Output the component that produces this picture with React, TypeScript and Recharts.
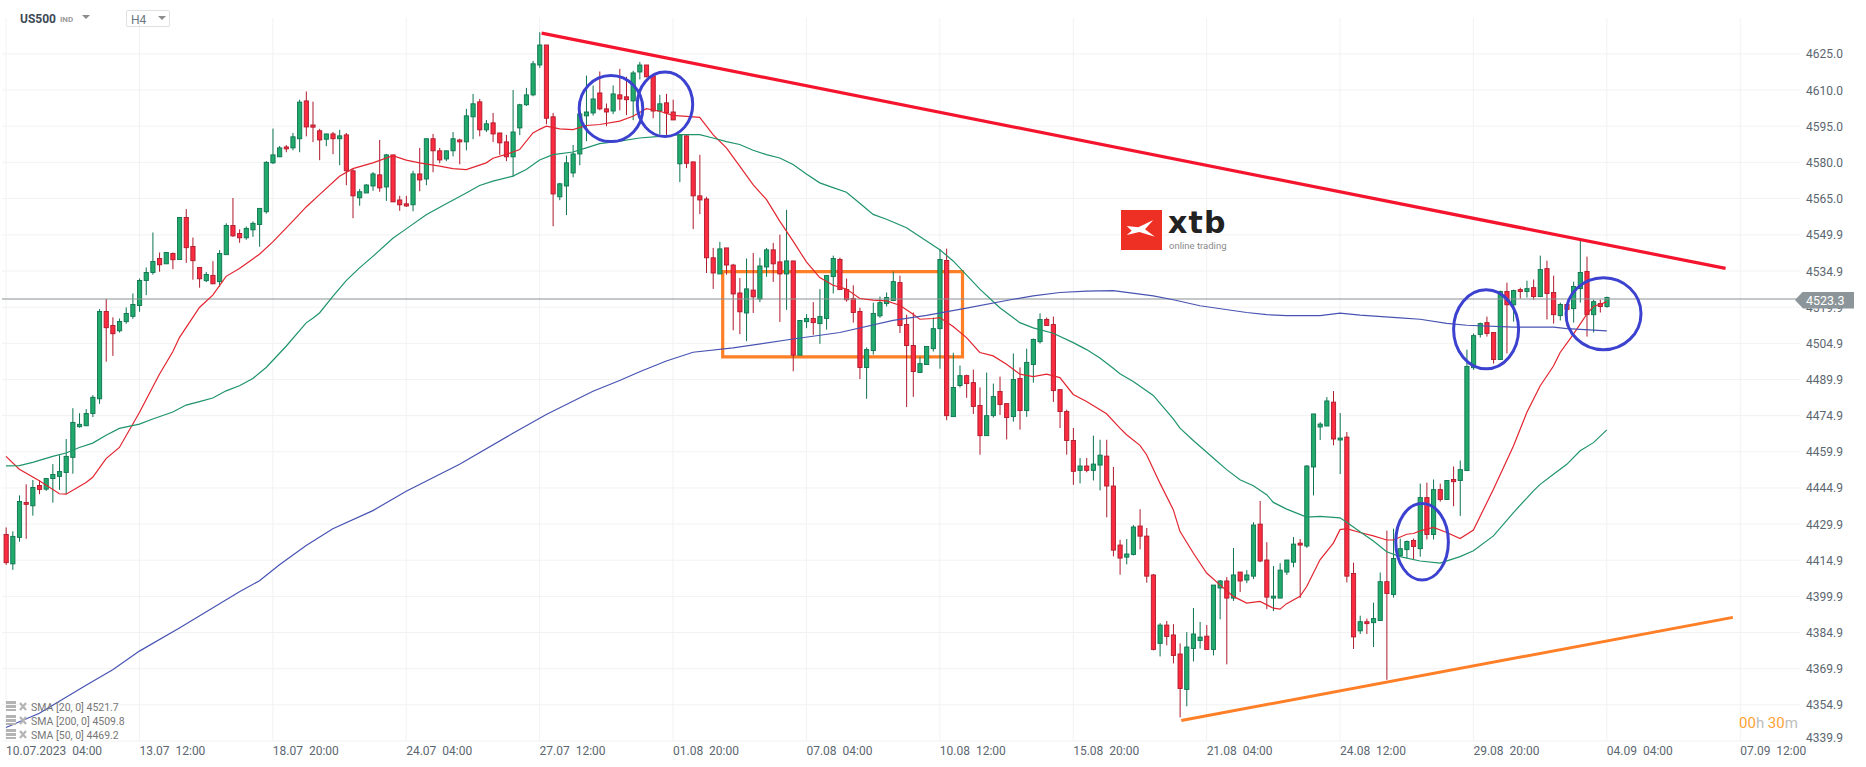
import React from "react";
import {
  ComposedChart, Bar, Line, XAxis, YAxis, CartesianGrid, ReferenceLine, ReferenceArea, ReferenceDot,
} from "recharts";

const opens = [
  4425.6,4413.4,4424.4,4438.9,4437.5,4445.9,4444.4,4448.8,4449.7,4451.3,
  4457.6,4470.3,4470.7,4475.8,4481.9,4518.1,4512.3,4510.1,4513.9,4516.1,
  4520.6,4531,4534.3,4540.1,4537.9,4542.2,4539.7,4557.1,4545.1,4536.4,
  4530.9,4533.1,4530.5,4541.7,4553.8,4550.5,4548.7,4552,4554.2,4559.5,
  4579.8,4582.3,4586.4,4586,4589.8,4605.5,4595.5,4593.1,4589.6,4591.8,
  4589.8,4591.4,4576.5,4565.3,4567.3,4570.2,4574.8,4569.8,4583.1,4564.4,
  4562.8,4562.4,4575.2,4573.1,4589.8,4584.8,4581.4,4584.8,4589.3,4588.5,
  4598.9,4605.1,4593.5,4596.4,4592.2,4588.5,4582.3,4594.3,4603.9,4608,
  4620.4,4628.7,4598.9,4565.7,4570.2,4575.6,4583.5,4599.3,4600.5,4608.8,
  4602.2,4601.3,4608,4607.2,4605.5,4617.5,4620.4,4615.9,4601.3,4604.7,
  4600.9,4579.4,4591,4580.2,4566.1,4564.8,4540.4,4533.7,4544.5,4537.4,
  4525.8,4517.5,4527,4523.3,4536.6,4543.7,4538.7,4533.7,4539.1,4500,
  4513.9,4515.2,4513.1,4515.2,4532.6,4539.7,4527.2,4523.5,4518.1,4494.9,
  4501.9,4516.3,4521.4,4522.7,4530.1,4512.7,4504,4492.8,4496.1,4502.7,
  4511,4539.3,4474.5,4487.4,4491.5,4488.6,4479.1,4466.6,4474.9,4484.9,
  4479.9,4474.5,4490.3,4477,4496.1,4505.6,4514.8,4512.7,4485.7,4476.6,
  4464.6,4452.2,4454,4452.2,4454.4,4458.1,4445.7,4421.2,4416.2,4417.3,
  4429.1,4424.9,4408.8,4380.4,4388,4383.9,4376,4361.3,4378.3,4381.6,
  4383.4,4377.9,4403.4,4406.3,4399.2,4410,4406.7,4408.3,4429.9,4415,
  4399.2,4399.2,4410,4414.1,4422,4420.8,4453.6,4470.2,4470.6,4480.5,
  4464.8,4466,4409.4,4385.6,4389.4,4389,4389.9,4406,4400.7,4416.8,
  4419.3,4423.1,4419.7,4440.9,4425.6,4444.2,4440.1,4448.4,4448,4452.1,
  4494.8,4508.6,4513.5,4509.4,4498.2,4526.4,4520.9,4527.2,4526.4,4528,
  4524.3,4535.9,4526,4516.4,4521,4519.3,4527.6,4534.7,4516.8,4521.4,
  4520.2,
];
const highs = [
  4428.5,4426.9,4441.8,4446.4,4448.2,4448,4448.8,4454.8,4458.5,4465.2,
  4478,4475.9,4477.6,4483.4,4519.1,4523.3,4515.7,4515.2,4519.8,4525.6,
  4531.8,4536.4,4550.9,4542.6,4542.6,4542.6,4557.1,4560.6,4548.8,4536.4,
  4534.5,4539,4543.6,4554.7,4565.2,4552.2,4553.4,4555.5,4560.9,4580.5,
  4594,4586.8,4587.2,4592.2,4606,4609.4,4605.2,4593.9,4591.8,4592.6,
  4593.5,4592.2,4577.3,4569,4571,4576,4589.3,4583.5,4583.1,4566.1,
  4566.1,4576.5,4586,4589.8,4591.8,4586,4584.8,4592.6,4589.8,4602.2,
  4608.4,4606.3,4597.6,4600.5,4592.2,4591.4,4610,4604.3,4610.9,4622.1,
  4634,4628.7,4600.5,4571.5,4582.8,4587.2,4600.1,4616,4611.9,4617.7,
  4604.4,4611.9,4618.8,4615.5,4618,4621.7,4620.4,4616.3,4608,4608.4,
  4606,4591.7,4591.3,4580.2,4583.1,4565.7,4544.5,4547,4544.5,4537.9,
  4532,4540.1,4542.4,4540.4,4544.5,4546.6,4550,4560.3,4539.1,4514.5,
  4517,4522,4527.4,4533,4541.3,4540.5,4531.8,4529,4519.7,4503.2,
  4521.8,4524.3,4526,4534.7,4533,4516.8,4517.7,4499.4,4503.6,4515.6,
  4544,4544.2,4501,4495.7,4491.9,4494,4486.6,4492.8,4488.2,4491.1,
  4479.9,4500.7,4494.9,4502.7,4506.9,4517.3,4515.6,4516,4485.7,4477.4,
  4469.8,4457.3,4457.3,4466.6,4464.9,4464.9,4453.6,4423.4,4423.7,4429.5,
  4436.1,4428.3,4409.2,4388.8,4389.7,4388.4,4380.4,4385.1,4395.1,4389.3,
  4388,4404.6,4406.7,4407.9,4420,4410,4410.8,4430.7,4439.5,4422.4,
  4412.5,4413.7,4415,4424.5,4423.7,4454.4,4475.6,4472.2,4482.6,4485.1,
  4476,4468.1,4413.9,4391.9,4390.7,4397.3,4409.8,4427.2,4428,4423.9,
  4423.1,4423.9,4446.7,4447.1,4448.4,4446.7,4448,4453.8,4456.3,4502.3,
  4509,4513.5,4516,4509.4,4526.8,4530.1,4527.2,4528,4530.9,4531.4,
  4541.3,4539.2,4533,4521.8,4521,4530.5,4548.1,4540.9,4523,4523,
  4524.3,
];
const lows = [
  4413,4410.9,4422.6,4423.8,4433.4,4442.3,4443.7,4438.8,4444.1,4442.3,
  4450.8,4469.9,4470.7,4474.3,4479.8,4497.3,4499.7,4509.4,4513,4515.1,
  4518,4524.9,4533.4,4534.6,4537.9,4535.7,4539.7,4538.3,4531.3,4528,
  4530.3,4529.6,4528.4,4541.7,4549.1,4546.6,4547.9,4549.1,4545,4558.7,
  4579.3,4582.3,4584.2,4585,4584.2,4590.8,4588.4,4580.9,4586.7,4583.4,
  4578.8,4570.5,4556.8,4562,4567.3,4568.2,4567.8,4564,4563.6,4559.9,
  4561.5,4559.7,4568,4570.5,4575.9,4579.6,4580.5,4582.5,4579.2,4585,
  4589.6,4590.8,4592.6,4588.4,4583.1,4580.5,4574,4591.3,4603.4,4607.4,
  4619.2,4595.8,4553.5,4564.3,4558.1,4573.8,4578.8,4588.8,4599.4,4601.6,
  4595,4600,4601.6,4599.6,4597.5,4614.4,4615.3,4598.3,4591.5,4591.4,
  4597.6,4571.8,4577.6,4552.3,4558.5,4534.1,4527.5,4533.7,4533.4,4510.3,
  4508.7,4505.8,4517.5,4522,4532.5,4530.4,4513.8,4518.8,4493.3,4500,
  4511.2,4508.4,4504.7,4510.6,4525.6,4527.2,4522.2,4513.5,4490.1,4481.9,
  4500.2,4515.5,4520.2,4522.7,4509.2,4478.5,4482.7,4492.8,4496.1,4501.5,
  4494.4,4473,4474.5,4486.6,4482.3,4475.6,4458.7,4466.6,4474.1,4475.2,
  4465,4472.4,4469.1,4474.4,4488.6,4504.8,4512.3,4480.6,4469.8,4458.7,
  4446.2,4446.8,4451.4,4448,4443.9,4432.7,4416.5,4408.9,4413.2,4416.9,
  4419.4,4405.6,4377.5,4375,4379.6,4372.1,4349.7,4354.3,4372.9,4378.3,
  4377.9,4375.4,4390.4,4371.7,4398,4401.7,4405.4,4407.1,4414.1,4394.6,
  4393.8,4399.2,4408.8,4412,4399.2,4420,4441.8,4464.8,4470.6,4462.6,
  4450.7,4405.7,4378.1,4384.3,4384.3,4378.9,4389.9,4365.3,4399.4,4416.4,
  4415.6,4415.2,4416.4,4423.5,4423.5,4439.2,4440.1,4437.3,4433.3,4452.1,
  4493.9,4507.3,4507.7,4496.5,4498.2,4500.7,4513.9,4523.5,4523.9,4523,
  4524.3,4514.8,4513.1,4514.4,4512,4513.5,4521.8,4507.7,4509.4,4517.7,
  4519.7,
];
const closes = [
  4413.9,4424.8,4439.3,4438.1,4445.1,4444.3,4448.8,4450.5,4451.7,4458,
  4472.1,4471.3,4475.8,4482.5,4518.1,4511.4,4508.9,4514,4517.3,4521,
  4531,4534.3,4538.9,4537.5,4542.6,4539.6,4557.1,4544.6,4539.2,4531.7,
  4533.5,4529.6,4542.2,4553.8,4549.5,4548.7,4552.6,4554.7,4560.9,4580,
  4583.1,4586,4585.6,4590.6,4605,4594.7,4594.6,4589.3,4591.8,4589.8,
  4591,4576.5,4566.1,4567.8,4570.6,4575.2,4569.4,4583.1,4563.6,4562.4,
  4561.9,4575.2,4572.7,4589.8,4584.8,4581,4584.8,4589.8,4588.5,4599.3,
  4604.3,4593.5,4596,4591.8,4588.1,4582.3,4592.6,4603.9,4608,4620.9,
  4628.7,4598.3,4566.9,4571.1,4579.8,4583.5,4600.1,4600.9,4606.3,4602.2,
  4600.9,4608.4,4606.3,4606,4617.1,4620.4,4615.5,4601.3,4604.3,4600.5,
  4597.6,4591.4,4579.6,4566.1,4564.4,4540.4,4534.1,4544.1,4537.4,4525.4,
  4518,4527.5,4524.2,4537,4543.7,4537.9,4533.7,4539.1,4500,4514.4,
  4515.2,4513.5,4516,4533,4540.1,4527.2,4523,4517.7,4494.9,4502.3,
  4517.3,4521.8,4523.9,4530.5,4512.3,4504,4493.2,4496.5,4503.6,4511,
  4539.7,4474.9,4486.6,4491.5,4488.2,4478.7,4466.6,4474.9,4482.8,4479.5,
  4474.1,4489.9,4477,4497,4506.5,4514.8,4512.3,4485.3,4476.6,4464.6,
  4451.8,4454,4452.2,4454.8,4458.5,4445.7,4419.1,4415.8,4417.5,4428.7,
  4424.9,4408.3,4377.9,4388,4383.3,4375.4,4361.7,4378.9,4384.3,4383,
  4377.9,4404.6,4406.3,4399.2,4408.8,4406.3,4408.8,4429.5,4414.6,4399.6,
  4400,4410.8,4415,4421.6,4421.2,4454,4475.6,4471.4,4481,4465.2,
  4465.6,4408.3,4383.1,4389.4,4388.6,4390.7,4406,4401.1,4415.6,4419.7,
  4422.7,4420.6,4440.9,4425.6,4444.2,4440.1,4448,4447.5,4452.5,4495.3,
  4508.1,4513.1,4509,4498.2,4526.4,4520.9,4526.8,4526.4,4527.6,4524.3,
  4535.5,4525.6,4516.8,4521,4519,4528.5,4534.3,4516.8,4522.2,4520.2,
  4523.9,
];

type Knot = [number, number];
const sma20: Knot[] = [
  [0,4458],[2,4452.7],[5,4447.9],[8,4442.5],[9,4442.3],[12,4447.2],[13,4449.3],[15,4457.1],[17,4461.7],[20,4476.2],
  [23,4492.1],[25,4501.4],[26,4507.3],[29,4519.8],[31,4524.9],[33,4532.7],[35,4536],[38,4541.9],[40,4547],[43,4555.6],
  [45,4561.5],[47,4566.6],[50,4574.2],[52,4577.4],[55,4579.8],[58,4582.8],[60,4580.9],[62,4579.8],[65,4578.4],[67,4577.4],
  [69,4577],[72,4579.8],[73,4581.7],[75,4583.3],[77,4585.3],[79,4592.2],[80,4593.7],[81,4595],[83,4593.9],[85,4593.6],
  [87,4595.3],[89,4595.7],[92,4597.1],[94,4599.1],[96,4602.3],[98,4601.2],[100,4599.5],[102,4599.1],[104,4598.7],[106,4591.5],
  [108,4586],[110,4578.4],[112,4570.8],[114,4564.6],[116,4555.6],[118,4547.3],[120,4538.7],[122,4532.2],[124,4529],[126,4527.4],
  [128,4523.5],[130,4522.8],[132,4522.5],[134,4520.7],[136,4517],[137,4514.9],[139,4515.2],[140,4515.6],[142,4511.9],[144,4507.3],
  [146,4501.1],[148,4499.7],[150,4496.2],[152,4492.1],[154,4491.1],[156,4492.1],[158,4490.7],[160,4483.7],[162,4480.8],[165,4475.7],
  [167,4469.7],[168,4467],[170,4462.6],[171,4458.7],[173,4446.9],[175,4435.9],[176,4426.9],[178,4417.9],[180,4409.6],[182,4404.7],
  [184,4399.9],[186,4397.1],[188,4397.8],[190,4395],[191,4394.6],[192,4396.9],[194,4399.9],[195,4404],[197,4415.1],[199,4422],
  [200,4427.6],[201,4428],[203,4426.4],[205,4425],[207,4423.3],[208,4423.3],[210,4425.7],[211,4426],[212,4427.1],[214,4428.5],
  [216,4426.4],[218,4423.9],[220,4427.4],[223,4444.4],[226,4462.3],[228,4476.2],[230,4487.2],[232,4495.5],[233,4501.1],[235,4508.7],
  [237,4517],[238,4520.2],[240,4522.1],
];
const sma50: Knot[] = [
  [0,4454.1],[2,4454.2],[4,4455.5],[7,4458],[9,4459.4],[11,4461.7],[13,4463.5],[15,4466.8],[17,4469.6],[20,4471.4],
  [22,4473.5],[25,4476.4],[27,4479.3],[29,4480.7],[31,4482.2],[33,4485.2],[35,4487.3],[37,4490.3],[39,4494.9],[42,4503.7],
  [45,4513.4],[46,4515.3],[47,4517.5],[49,4524.4],[51,4530.9],[53,4536.2],[55,4541],[58,4548.5],[60,4552.4],[63,4558.3],
  [66,4562.8],[69,4567.3],[71,4570.4],[73,4572.2],[76,4574.3],[78,4577],[80,4581],[82,4583.2],[85,4584.3],[87,4586],
  [89,4587.8],[92,4588.8],[95,4590.1],[98,4590.8],[101,4591.5],[104,4591.5],[106,4590.1],[108,4588.6],[110,4587.4],[112,4585],
  [114,4583.2],[116,4581.8],[118,4579.1],[120,4575.2],[122,4571.5],[124,4569.5],[126,4567.6],[128,4563],[130,4558.4],[132,4556.4],
  [135,4552.9],[140,4543.7],[142,4539.1],[146,4527.4],[149,4519.7],[152,4513.5],[154,4511.3],[157,4509.1],[160,4505.2],[162,4502.3],
  [164,4498.8],[166,4494.6],[167,4492.3],[169,4489.1],[172,4483.3],[175,4473.6],[176,4469.7],[178,4464.6],[181,4457.3],[183,4452.5],
  [185,4448.3],[187,4445.8],[189,4442.1],[190,4438.9],[192,4436.1],[195,4432.8],[197,4433.1],[199,4432.7],[200,4432.5],[201,4430.7],
  [203,4426.7],[205,4422.9],[207,4418.4],[209,4416.4],[212,4414.6],[215,4413.7],[218,4416.4],[220,4418.8],[223,4425],[226,4434.7],
  [229,4443.7],[230,4446.4],[232,4450.6],[234,4454.7],[236,4460.3],[238,4463.7],[240,4469],
];
const sma200: Knot[] = [
  [0,4345.5],[5,4351.4],[12,4363],[16,4369.5],[20,4377.2],[26,4386.8],[35,4401.8],[38,4406.4],[41,4413],[45,4421],
  [49,4428],[55,4435.5],[60,4443.5],[68,4454.7],[76,4467.6],[81,4475.4],[88,4485],[92,4489.5],[95,4493.1],[99,4497.6],
  [103,4501.2],[109,4503],[118,4506.7],[125,4509.4],[133,4514.4],[138,4516.5],[144,4519.5],[151,4523.2],[154,4524.6],[158,4526],
  [162,4526.6],[166,4526.8],[172,4524.6],[175,4523],[179,4520.5],[186,4517.7],[189,4516.8],[192,4516.4],[197,4516.4],[200,4517.4],
  [203,4516.6],[209,4515.5],[212,4514.9],[216,4513.2],[219,4512.4],[226,4511.6],[232,4511.6],[234,4511],[240,4510.1],
];

const priceTicks = [4625, 4610, 4595, 4580, 4565, 4549.9, 4534.9, 4519.9, 4504.9, 4489.9, 4474.9, 4459.9, 4444.9, 4429.9, 4414.9, 4399.9, 4384.9, 4369.9, 4354.9, 4339.9];
const timeTicks = [0, 20, 40, 60, 80, 100, 120, 140, 160, 180, 200, 220, 240, 260];
const timeLabels = ["10.07.2023\u00A0\u00A004:00", "13.07\u00A0\u00A012:00", "18.07\u00A0\u00A020:00", "24.07\u00A0\u00A004:00", "27.07\u00A0\u00A012:00", "01.08\u00A0\u00A020:00", "07.08\u00A0\u00A004:00", "10.08\u00A0\u00A012:00", "15.08\u00A0\u00A020:00", "21.08\u00A0\u00A004:00", "24.08\u00A0\u00A012:00", "29.08\u00A0\u00A020:00", "04.09\u00A0\u00A004:00", "07.09\u00A0\u00A012:00"];
const lastPrice = 4523.3;
const legendRows = ["SMA [20, 0] 4521.7", "SMA [200, 0] 4509.8", "SMA [50, 0] 4469.2"];
const redTrend = [{ x: 80.3, y: 4633.6 }, { x: 257.8, y: 4536 }];
const orangeTrend = [{ x: 176.2, y: 4348.4 }, { x: 258.9, y: 4391.2 }];
const zoneBox = { x1: 107.45, x2: 143.4, y1: 4499.3, y2: 4534.7 };
const circles = [
  { i: 90.7, v: 4602.3, rx: 31.8, ry: 33 },
  { i: 98.8, v: 4604.1, rx: 27.7, ry: 32.3 },
  { i: 212.3, v: 4422.6, rx: 26.3, ry: 38.3 },
  { i: 221.9, v: 4510.7, rx: 32.5, ry: 39.5 },
  { i: 239.5, v: 4517.2, rx: 37.5, ry: 36 },
];

const lookup = (k: Knot[]) => new Map(k);
const m20 = lookup(sma20), m50 = lookup(sma50), m200 = lookup(sma200);
const rows = opens.map((o, i) => ({
  i, open: o, high: highs[i], low: lows[i], close: closes[i],
  range: [lows[i], highs[i]],
  sma20: m20.get(i) ?? null, sma50: m50.get(i) ?? null, sma200: m200.get(i) ?? null,
}));

const FONT = "Roboto, sans-serif";
const GREEN = "#22aa6c", GREEN_D = "#0d7350", RED = "#fb2b40", RED_D = "#ae1a2b";

function Candle(props: any) {
  const { x, y, width, height, payload } = props;
  if (height == null) return null;
  const top = Math.min(y, y + height);
  const h = Math.abs(height);
  const k = h / (payload.high - payload.low);
  const cx = x + width / 2;
  const at = (v: number) => top + (payload.high - v) * k;
  const up = payload.close >= payload.open;
  const bodyTop = at(Math.max(payload.open, payload.close));
  const bodyBot = at(Math.min(payload.open, payload.close));
  const edge = up ? GREEN_D : RED_D;
  return (
    <g>
      <line x1={cx} x2={cx} y1={top} y2={top + h} stroke={edge} strokeWidth={1} />
      <rect x={cx - 2.1} y={bodyTop} width={4.2} height={Math.max(bodyBot - bodyTop, 1)} fill={up ? GREEN : RED} stroke={edge} strokeWidth={0.9} />
    </g>
  );
}

function PriceTick(props: any) {
  const { y, payload } = props;
  const low = payload.value === 4339.9;
  return (
    <text x={1806} y={y + (low ? -4 : 0) + 4.5} fontFamily={FONT} fontSize={12} fill="#5c6670" textAnchor="start">
      {payload.value.toFixed(1)}
    </text>
  );
}

function TimeTick(props: any) {
  const { x, payload } = props;
  return (
    <text x={x} y={755} fontFamily={FONT} fontSize={12} fill="#5c6670" textAnchor="start">
      {timeLabels[payload.value / 20]}
    </text>
  );
}

const Ellipse = (rx: number, ry: number) => (p: any) =>
  <ellipse cx={p.cx} cy={p.cy} rx={rx} ry={ry} fill="none" stroke="#3c42cf" strokeWidth={3} />;

const abs = (s: React.CSSProperties): React.CSSProperties => ({ position: "absolute", fontFamily: FONT, whiteSpace: "nowrap", ...s });
const tri = (left: number, top: number): React.CSSProperties => ({
  position: "absolute", left, top, width: 0, height: 0,
  borderLeft: "4px solid transparent", borderRight: "4px solid transparent", borderTop: "4px solid #8c8c8c",
});

export default function App() {
  return (
    <div style={{ position: "absolute", left: 0, top: 0, width: 1866, height: 767, background: "#fff", overflow: "hidden" }}>
      <ComposedChart width={1866} height={767} data={rows} margin={{ top: 18, right: 0, bottom: 0, left: 2 }}>
        <CartesianGrid stroke="#f2f2f3" strokeWidth={1} verticalValues={timeTicks} horizontalValues={priceTicks} />
        <XAxis dataKey="i" type="number" domain={[-0.6, 268.96]} ticks={timeTicks} interval={0} height={26}
          allowDataOverflow axisLine={false} tickLine={false} tick={<TimeTick />} />
        <YAxis type="number" orientation="right" domain={[4339.9, 4639.9]} ticks={priceTicks} interval={0} width={66}
          allowDataOverflow axisLine={false} tickLine={false} tick={<PriceTick />} />
        <ReferenceLine y={lastPrice} stroke="#8a9093" strokeWidth={1} />
        <Bar dataKey="range" barSize={5} shape={<Candle />} isAnimationActive={false} />
        <Line dataKey="sma20" connectNulls dot={false} stroke="#e2252f" strokeWidth={1.2} type="linear" isAnimationActive={false} />
        <Line dataKey="sma50" connectNulls dot={false} stroke="#1f9469" strokeWidth={1.2} type="linear" isAnimationActive={false} />
        <Line dataKey="sma200" connectNulls dot={false} stroke="#4753b2" strokeWidth={1.2} type="linear" isAnimationActive={false} />
        <ReferenceLine segment={redTrend} stroke="#f5142d" strokeWidth={3.2} ifOverflow="visible" />
        <ReferenceLine segment={orangeTrend} stroke="#ff7f27" strokeWidth={3} ifOverflow="visible" />
        <ReferenceArea {...zoneBox} fill="none" stroke="#ff7f27" strokeWidth={3.2} ifOverflow="visible" />
        {circles.map((c, n) => (
          <ReferenceDot key={n} x={c.i} y={c.v} ifOverflow="visible" shape={Ellipse(c.rx, c.ry)} />
        ))}
      </ComposedChart>

      {/* header */}
      <div style={abs({ left: 20, top: 12, fontSize: 12, fontWeight: 700, color: "#3d4a55" })}>US500</div>
      <div style={abs({ left: 60, top: 15, fontSize: 8, fontWeight: 700, color: "#9a9a9a" })}>IND</div>
      <div style={tri(82, 15)} />
      <div style={{ position: "absolute", left: 126, top: 10, width: 42, height: 15, border: "1px solid #e0e0e0", borderRadius: 2 }} />
      <div style={abs({ left: 131, top: 13, fontSize: 12, color: "#6c7780" })}>H4</div>
      <div style={tri(158, 16)} />

      {/* logo */}
      <div style={{ position: "absolute", left: 1121, top: 210, width: 41, height: 40, background: "#ee2f24" }}>
        <svg width={41} height={40}>
          <polygon fill="#fff" points="5.7,16 17.3,17.3 32.3,10 24,19.3 34,26.7 18.3,22 5.7,25 10.7,20.7" />
        </svg>
      </div>
      <div style={abs({ left: 1168, top: 208, fontSize: 30, fontWeight: 700, color: "#222", fontFamily: "'DejaVu Sans', sans-serif", letterSpacing: 1.2, lineHeight: "30px" })}>xtb</div>
      <div style={abs({ left: 1169, top: 239, fontSize: 9.5, color: "#8a8a8a", lineHeight: "13px" })}>online trading</div>

      {/* price tag */}
      <div style={abs({ left: 1795, top: 291.5, width: 59, height: 17, background: "#8c9599", clipPath: "polygon(0 50%, 8px 0, 100% 0, 100% 100%, 8px 100%)" })}>
        <span style={{ position: "absolute", left: 11, top: 1, fontSize: 12.5, color: "#fff", lineHeight: "15px" }}>{lastPrice.toFixed(1)}</span>
      </div>

      {/* countdown */}
      <div style={abs({ left: 1739, top: 714, fontSize: 15, lineHeight: "18px", color: "#ffa233" })}>
        00<span style={{ color: "#bdbdbd" }}>h</span> 30<span style={{ color: "#bdbdbd" }}>m</span>
      </div>

      {/* study legend */}
      {legendRows.map((t, n) => {
        const top = [701, 715, 729][n];
        return (
          <React.Fragment key={t}>
            <svg style={{ position: "absolute", left: 6, top }} width={22} height={12}>
              <rect x={0} y={0} width={10} height={3} fill="#b4b4b4" />
              <rect x={0} y={4} width={10} height={3} fill="#b4b4b4" />
              <rect x={0} y={8} width={10} height={2} fill="#b4b4b4" />
              <path d="M14 2 L20 9 M20 2 L14 9" stroke="#b4b4b4" strokeWidth={2.2} />
            </svg>
            <div style={abs({ left: 31, top: top, fontSize: 10.5, lineHeight: "14px", color: "#777" })}>{t}</div>
          </React.Fragment>
        );
      })}
    </div>
  );
}
